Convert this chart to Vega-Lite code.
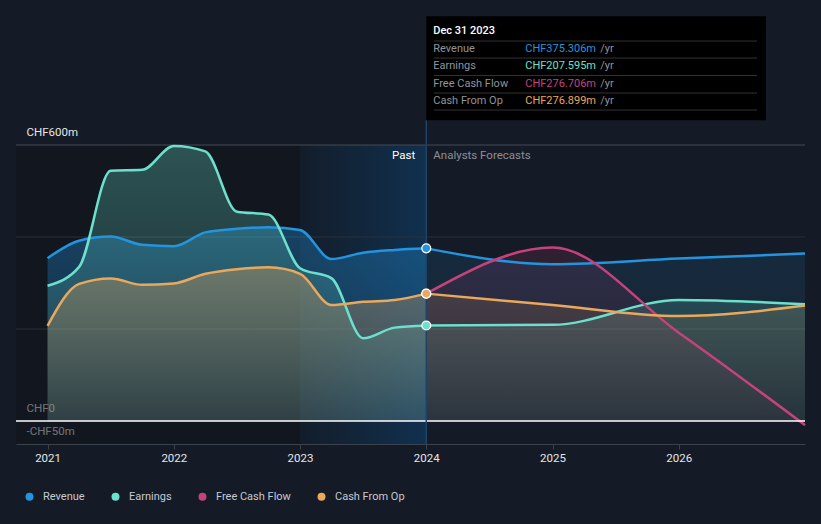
{
  "$schema": "https://vega.github.io/schema/vega-lite/v6.json",
  "autosize": "none",
  "width": 789,
  "height": 299,
  "padding": {"left": 16, "top": 145, "right": 16, "bottom": 80},
  "background": "#151b26",
  "config": {
    "view": {"stroke": null},
    "font": "Roboto"
  },
  "datasets": {
    "series": [
      {"series": "Revenue", "period": "past", "year": 2021.0, "value": 354},
      {"series": "Revenue", "period": "past", "year": 2021.25, "value": 392},
      {"series": "Revenue", "period": "past", "year": 2021.5, "value": 401},
      {"series": "Revenue", "period": "past", "year": 2021.75, "value": 383},
      {"series": "Revenue", "period": "past", "year": 2022.0, "value": 380},
      {"series": "Revenue", "period": "past", "year": 2022.25, "value": 410},
      {"series": "Revenue", "period": "past", "year": 2022.5, "value": 418},
      {"series": "Revenue", "period": "past", "year": 2022.75, "value": 421},
      {"series": "Revenue", "period": "past", "year": 2023.0, "value": 415},
      {"series": "Revenue", "period": "past", "year": 2023.25, "value": 352},
      {"series": "Revenue", "period": "past", "year": 2023.5, "value": 366},
      {"series": "Revenue", "period": "past", "year": 2023.75, "value": 372},
      {"series": "Revenue", "period": "past", "year": 2024.0, "value": 375.306},
      {"series": "Revenue", "period": "forecast", "year": 2024.0, "value": 375.306},
      {"series": "Revenue", "period": "forecast", "year": 2025.0, "value": 341},
      {"series": "Revenue", "period": "forecast", "year": 2026.0, "value": 353},
      {"series": "Revenue", "period": "forecast", "year": 2027.0, "value": 364},
      {"series": "Earnings", "period": "past", "year": 2021.0, "value": 294},
      {"series": "Earnings", "period": "past", "year": 2021.25, "value": 335},
      {"series": "Earnings", "period": "past", "year": 2021.5, "value": 544},
      {"series": "Earnings", "period": "past", "year": 2021.75, "value": 546},
      {"series": "Earnings", "period": "past", "year": 2022.0, "value": 598},
      {"series": "Earnings", "period": "past", "year": 2022.25, "value": 586},
      {"series": "Earnings", "period": "past", "year": 2022.5, "value": 455},
      {"series": "Earnings", "period": "past", "year": 2022.75, "value": 449},
      {"series": "Earnings", "period": "past", "year": 2023.0, "value": 332},
      {"series": "Earnings", "period": "past", "year": 2023.25, "value": 310},
      {"series": "Earnings", "period": "past", "year": 2023.5, "value": 180},
      {"series": "Earnings", "period": "past", "year": 2023.75, "value": 203},
      {"series": "Earnings", "period": "past", "year": 2024.0, "value": 207.595},
      {"series": "Earnings", "period": "forecast", "year": 2024.0, "value": 207.595},
      {"series": "Earnings", "period": "forecast", "year": 2025.0, "value": 209},
      {"series": "Earnings", "period": "forecast", "year": 2026.0, "value": 263},
      {"series": "Earnings", "period": "forecast", "year": 2027.0, "value": 254},
      {"series": "Free Cash Flow", "period": "forecast", "year": 2024.0, "value": 276.706},
      {"series": "Free Cash Flow", "period": "forecast", "year": 2025.0, "value": 377},
      {"series": "Free Cash Flow", "period": "forecast", "year": 2026.0, "value": 192},
      {"series": "Free Cash Flow", "period": "forecast", "year": 2027.0, "value": -9},
      {"series": "Cash From Op", "period": "past", "year": 2021.0, "value": 207},
      {"series": "Cash From Op", "period": "past", "year": 2021.25, "value": 298},
      {"series": "Cash From Op", "period": "past", "year": 2021.5, "value": 310},
      {"series": "Cash From Op", "period": "past", "year": 2021.75, "value": 296},
      {"series": "Cash From Op", "period": "past", "year": 2022.0, "value": 299},
      {"series": "Cash From Op", "period": "past", "year": 2022.25, "value": 320},
      {"series": "Cash From Op", "period": "past", "year": 2022.5, "value": 330},
      {"series": "Cash From Op", "period": "past", "year": 2022.75, "value": 334},
      {"series": "Cash From Op", "period": "past", "year": 2023.0, "value": 320},
      {"series": "Cash From Op", "period": "past", "year": 2023.25, "value": 252},
      {"series": "Cash From Op", "period": "past", "year": 2023.5, "value": 259},
      {"series": "Cash From Op", "period": "past", "year": 2023.75, "value": 263},
      {"series": "Cash From Op", "period": "past", "year": 2024.0, "value": 276.899},
      {"series": "Cash From Op", "period": "forecast", "year": 2024.0, "value": 276.899},
      {"series": "Cash From Op", "period": "forecast", "year": 2025.0, "value": 252},
      {"series": "Cash From Op", "period": "forecast", "year": 2026.0, "value": 228},
      {"series": "Cash From Op", "period": "forecast", "year": 2027.0, "value": 251}
    ],
    "tip": [
      {"series": "Revenue", "label": "Revenue", "text": "CHF375.306m"},
      {"series": "Earnings", "label": "Earnings", "text": "CHF207.595m"},
      {"series": "Free Cash Flow", "label": "Free Cash Flow", "text": "CHF276.706m"},
      {"series": "Cash From Op", "label": "Cash From Op", "text": "CHF276.899m"}
    ]
  },
  "data": {"name": "series"},
  "layer": [
    {
      "data": {"values": [{}]},
      "layer": [
        {
          "mark": {"type": "rect", "fill": "#0f131a", "opacity": 0.55},
          "encoding": {
            "x": {"datum": 2020.75, "type": "quantitative", "scale": {"domain": [2020.75, 2027], "nice": false, "zero": false},
              "axis": {"values": [2021, 2022, 2023, 2024, 2025, 2026], "format": "d", "grid": false, "title": null, "domainColor": "#3c424c", "tickColor": "#3c424c", "tickSize": 5, "labelColor": "#e6e6e6", "labelFontSize": 11.5, "labelFont": "Roboto", "labelPadding": 3}},
            "x2": {"datum": 2023},
            "y": {"datum": 600, "type": "quantitative", "scale": {"domain": [-50, 600], "nice": false, "zero": false},
              "axis": {"values": [-50, 0, 600], "title": null, "grid": false, "domain": false, "ticks": false, "labelAlign": "left", "labelBaseline": "alphabetic", "labelPadding": -10, "labelOffset": -10, "labelColor": "#e6e6e6", "labelFontSize": 11.5, "labelFont": "Roboto",
                "labelExpr": "datum.value == 0 ? 'CHF0' : (datum.value < 0 ? '-CHF' + abs(datum.value) + 'm' : 'CHF' + datum.value + 'm')"}},
            "y2": {"datum": -50}
          }
        },
        {
          "mark": {"type": "rect", "fill": {"gradient": "linear", "x1": 0, "y1": 0, "x2": 1, "y2": 0, "stops": [{"offset": 0, "color": "#131d2a"}, {"offset": 1, "color": "#10304e"}]}},
          "encoding": {"x": {"datum": 2023}, "x2": {"datum": 2024}, "y": {"datum": 600}, "y2": {"datum": -50}}
        },
        {"mark": {"type": "rule", "color": "#454b55", "strokeWidth": 1}, "encoding": {"y": {"datum": 600}}},
        {"mark": {"type": "rule", "color": "#2a303a", "strokeWidth": 1}, "encoding": {"y": {"datum": 400}}},
        {"mark": {"type": "rule", "color": "#2a303a", "strokeWidth": 1}, "encoding": {"y": {"datum": 200}}}
      ]
    },
    {
      "transform": [{"filter": "datum.series == 'Revenue' && datum.period == 'past'"}],
      "mark": {"type": "area", "interpolate": "monotone", "fill": {"gradient": "linear", "x1": 0, "y1": 0, "x2": 0, "y2": 1, "stops": [{"offset": 0, "color": "rgba(35,148,223,0.35)"}, {"offset": 1, "color": "rgba(35,148,223,0.12)"}]}},
      "encoding": {"x": {"field": "year", "type": "quantitative"}, "y": {"field": "value", "type": "quantitative"}}
    },
    {
      "transform": [{"filter": "datum.series == 'Earnings' && datum.period == 'past'"}],
      "mark": {"type": "area", "interpolate": "monotone", "fill": {"gradient": "linear", "x1": 0, "y1": 0, "x2": 0, "y2": 1, "stops": [{"offset": 0, "color": "rgba(108,224,204,0.30)"}, {"offset": 1, "color": "rgba(108,224,204,0.08)"}]}},
      "encoding": {"x": {"field": "year", "type": "quantitative"}, "y": {"field": "value", "type": "quantitative"}}
    },
    {
      "transform": [{"filter": "datum.series == 'Cash From Op' && datum.period == 'past'"}],
      "mark": {"type": "area", "interpolate": "monotone", "fill": {"gradient": "linear", "x1": 0, "y1": 0, "x2": 0, "y2": 1, "stops": [{"offset": 0, "color": "rgba(233,168,92,0.35)"}, {"offset": 1, "color": "rgba(233,168,92,0.10)"}]}},
      "encoding": {"x": {"field": "year", "type": "quantitative"}, "y": {"field": "value", "type": "quantitative"}}
    },
    {
      "transform": [{"filter": "datum.series == 'Revenue' && datum.period == 'forecast'"}],
      "mark": {"type": "area", "interpolate": "monotone", "fill": {"gradient": "linear", "x1": 0, "y1": 0, "x2": 0, "y2": 1, "stops": [{"offset": 0, "color": "rgba(35,148,223,0.13)"}, {"offset": 1, "color": "rgba(35,148,223,0.05)"}]}},
      "encoding": {"x": {"field": "year", "type": "quantitative"}, "y": {"field": "value", "type": "quantitative"}}
    },
    {
      "transform": [{"filter": "datum.series == 'Earnings' && datum.period == 'forecast'"}],
      "mark": {"type": "area", "interpolate": "monotone", "fill": {"gradient": "linear", "x1": 0, "y1": 0, "x2": 0, "y2": 1, "stops": [{"offset": 0, "color": "rgba(108,224,204,0.18)"}, {"offset": 1, "color": "rgba(108,224,204,0.06)"}]}},
      "encoding": {"x": {"field": "year", "type": "quantitative"}, "y": {"field": "value", "type": "quantitative"}}
    },
    {
      "transform": [{"filter": "datum.series == 'Free Cash Flow'"}],
      "mark": {"type": "area", "interpolate": "monotone", "fill": {"gradient": "linear", "x1": 0, "y1": 0, "x2": 0, "y2": 1, "stops": [{"offset": 0, "color": "rgba(197,66,125,0.14)"}, {"offset": 1, "color": "rgba(197,66,125,0.04)"}]}},
      "encoding": {"x": {"field": "year", "type": "quantitative"}, "y": {"field": "value", "type": "quantitative"}}
    },
    {
      "transform": [{"filter": "datum.series == 'Cash From Op' && datum.period == 'forecast'"}],
      "mark": {"type": "area", "interpolate": "monotone", "fill": {"gradient": "linear", "x1": 0, "y1": 0, "x2": 0, "y2": 1, "stops": [{"offset": 0, "color": "rgba(233,168,92,0.14)"}, {"offset": 1, "color": "rgba(233,168,92,0.05)"}]}},
      "encoding": {"x": {"field": "year", "type": "quantitative"}, "y": {"field": "value", "type": "quantitative"}}
    },
    {
      "mark": {"type": "line", "interpolate": "monotone", "strokeWidth": 2.5},
      "encoding": {
        "x": {"field": "year", "type": "quantitative"},
        "y": {"field": "value", "type": "quantitative"},
        "color": {"field": "series", "type": "nominal",
          "scale": {"domain": ["Revenue", "Earnings", "Free Cash Flow", "Cash From Op"], "range": ["#2394df", "#6ce0cc", "#c5427d", "#e9a85c"]},
          "legend": {
            "orient": "none",
            "legendX": 8,
            "legendY": 346,
            "direction": "horizontal",
            "title": null,
            "padding": 0,
            "symbolType": "circle",
            "symbolSize": 64,
            "symbolStrokeWidth": 0,
            "symbolOpacity": 1,
            "labelColor": "#c5c9d0",
            "labelFontSize": 11,
            "labelFont": "Roboto",
            "labelOffset": 8,
            "columnPadding": 25,
            "encode": {"symbols": {"update": {"fill": {"scale": "color", "field": "value"}, "stroke": {"value": "transparent"}, "strokeWidth": {"value": 0}, "shape": {"value": "circle"}}}}
          }},
        "detail": {"field": "period"}
      }
    },
    {
      "data": {"values": [{}]},
      "layer": [
        {"mark": {"type": "rule", "color": "#ffffff", "strokeWidth": 1.5}, "encoding": {"y": {"datum": 0}}},
        {"mark": {"type": "rule", "color": "#1d4466", "strokeWidth": 1.5}, "encoding": {"x": {"datum": 2024}, "y": {"datum": 654}, "y2": {"datum": -50}}}
      ]
    },
    {
      "transform": [{"filter": "datum.year == 2024 && datum.period == 'forecast'"}],
      "mark": {"type": "circle", "size": 80, "opacity": 1, "stroke": "#ffffff", "strokeWidth": 1.2},
      "encoding": {
        "x": {"field": "year", "type": "quantitative"},
        "y": {"field": "value", "type": "quantitative"},
        "color": {"field": "series", "type": "nominal"},
        "order": {"field": "value", "type": "quantitative"}
      }
    },
    {
      "data": {"values": [{}]},
      "layer": [
        {"mark": {"type": "text", "text": "Past", "align": "right", "baseline": "middle", "dx": -11, "color": "#ffffff", "fontSize": 11.5, "font": "Roboto"},
          "encoding": {"x": {"datum": 2024}, "y": {"datum": 576}}},
        {"mark": {"type": "text", "text": "Analysts Forecasts", "align": "left", "baseline": "middle", "dx": 7, "color": "#8a8f99", "fontSize": 11.5, "font": "Roboto"},
          "encoding": {"x": {"datum": 2024}, "y": {"datum": 576}}},
        {"mark": {"type": "rect", "fill": "#000000"},
          "encoding": {"x": {"datum": 2024}, "x2": {"datum": 2026.69}, "y": {"datum": 880}, "y2": {"datum": 654}}},
        {"mark": {"type": "text", "text": "Dec 31 2023", "align": "left", "baseline": "middle", "dx": 7, "color": "#ffffff", "fontSize": 11, "fontWeight": 500, "font": "Roboto"},
          "encoding": {"x": {"datum": 2024}, "y": {"datum": 847}}},
        {"mark": {"type": "rule", "color": "#333333", "strokeWidth": 1}, "encoding": {"x": {"datum": 2024.06}, "x2": {"datum": 2026.62}, "y": {"datum": 826}}},
        {"mark": {"type": "rule", "color": "#333333", "strokeWidth": 1}, "encoding": {"x": {"datum": 2024.06}, "x2": {"datum": 2026.62}, "y": {"datum": 789}}},
        {"mark": {"type": "rule", "color": "#333333", "strokeWidth": 1}, "encoding": {"x": {"datum": 2024.06}, "x2": {"datum": 2026.62}, "y": {"datum": 751}}},
        {"mark": {"type": "rule", "color": "#333333", "strokeWidth": 1}, "encoding": {"x": {"datum": 2024.06}, "x2": {"datum": 2026.62}, "y": {"datum": 713}}},
        {"mark": {"type": "rule", "color": "#333333", "strokeWidth": 1}, "encoding": {"x": {"datum": 2024.06}, "x2": {"datum": 2026.62}, "y": {"datum": 676}}}
      ]
    },
    {
      "data": {"name": "tip"},
      "layer": [
        {"transform": [{"filter": "datum.series == 'Revenue'"}], "mark": {"type": "text", "align": "left", "baseline": "middle", "dx": 7, "color": "#8f949b", "fontSize": 11, "font": "Roboto"},
          "encoding": {"x": {"datum": 2024}, "y": {"datum": 809}, "text": {"field": "label"}}},
        {"transform": [{"filter": "datum.series == 'Earnings'"}], "mark": {"type": "text", "align": "left", "baseline": "middle", "dx": 7, "color": "#8f949b", "fontSize": 11, "font": "Roboto"},
          "encoding": {"x": {"datum": 2024}, "y": {"datum": 772}, "text": {"field": "label"}}},
        {"transform": [{"filter": "datum.series == 'Free Cash Flow'"}], "mark": {"type": "text", "align": "left", "baseline": "middle", "dx": 7, "color": "#8f949b", "fontSize": 11, "font": "Roboto"},
          "encoding": {"x": {"datum": 2024}, "y": {"datum": 733}, "text": {"field": "label"}}},
        {"transform": [{"filter": "datum.series == 'Cash From Op'"}], "mark": {"type": "text", "align": "left", "baseline": "middle", "dx": 7, "color": "#8f949b", "fontSize": 11, "font": "Roboto"},
          "encoding": {"x": {"datum": 2024}, "y": {"datum": 696}, "text": {"field": "label"}}},
        {"transform": [{"filter": "datum.series == 'Revenue'"}], "mark": {"type": "text", "align": "left", "baseline": "middle", "dx": 99, "fontSize": 11, "font": "Roboto"},
          "encoding": {"x": {"datum": 2024}, "y": {"datum": 809}, "text": {"field": "text"}, "color": {"field": "series", "type": "nominal"}}},
        {"transform": [{"filter": "datum.series == 'Earnings'"}], "mark": {"type": "text", "align": "left", "baseline": "middle", "dx": 99, "fontSize": 11, "font": "Roboto"},
          "encoding": {"x": {"datum": 2024}, "y": {"datum": 772}, "text": {"field": "text"}, "color": {"field": "series", "type": "nominal"}}},
        {"transform": [{"filter": "datum.series == 'Free Cash Flow'"}], "mark": {"type": "text", "align": "left", "baseline": "middle", "dx": 99, "fontSize": 11, "font": "Roboto"},
          "encoding": {"x": {"datum": 2024}, "y": {"datum": 733}, "text": {"field": "text"}, "color": {"field": "series", "type": "nominal"}}},
        {"transform": [{"filter": "datum.series == 'Cash From Op'"}], "mark": {"type": "text", "align": "left", "baseline": "middle", "dx": 99, "fontSize": 11, "font": "Roboto"},
          "encoding": {"x": {"datum": 2024}, "y": {"datum": 696}, "text": {"field": "text"}, "color": {"field": "series", "type": "nominal"}}},
        {"transform": [{"filter": "datum.series == 'Revenue'"}], "mark": {"type": "text", "text": "/yr", "align": "left", "baseline": "middle", "dx": 174, "color": "#8f949b", "fontSize": 11, "font": "Roboto"},
          "encoding": {"x": {"datum": 2024}, "y": {"datum": 809}}},
        {"transform": [{"filter": "datum.series == 'Earnings'"}], "mark": {"type": "text", "text": "/yr", "align": "left", "baseline": "middle", "dx": 174, "color": "#8f949b", "fontSize": 11, "font": "Roboto"},
          "encoding": {"x": {"datum": 2024}, "y": {"datum": 772}}},
        {"transform": [{"filter": "datum.series == 'Free Cash Flow'"}], "mark": {"type": "text", "text": "/yr", "align": "left", "baseline": "middle", "dx": 174, "color": "#8f949b", "fontSize": 11, "font": "Roboto"},
          "encoding": {"x": {"datum": 2024}, "y": {"datum": 733}}},
        {"transform": [{"filter": "datum.series == 'Cash From Op'"}], "mark": {"type": "text", "text": "/yr", "align": "left", "baseline": "middle", "dx": 174, "color": "#8f949b", "fontSize": 11, "font": "Roboto"},
          "encoding": {"x": {"datum": 2024}, "y": {"datum": 696}}}
      ]
    }
  ]
}
